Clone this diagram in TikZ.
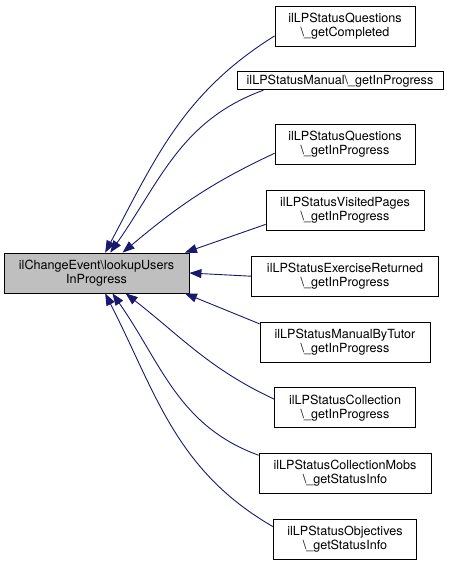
\documentclass[tikz,border=0pt]{standalone}
\usepackage{fontspec}
\setsansfont{TeX Gyre Heros}
\usetikzlibrary{arrows.meta, positioning}
\definecolor{edgeblue}{RGB}{25,25,112}

\begin{document}
\begin{tikzpicture}[
    x=1pt, y=1pt,
    fn/.style={draw, fill=white, align=center, font=\fontsize{12.6}{14}\selectfont\sffamily,
               inner xsep=4pt, inner ysep=2pt, minimum height=40pt, line width=0.8pt},
    fnone/.style={fn, minimum height=18pt},
    current/.style={fn, fill=black!25},
    caller/.style={draw=edgeblue, line width=0.9pt, <-},
    >={Triangle[length=12pt, width=9pt]},
    node distance=25pt
  ]
  \useasboundingbox (0,0) rectangle (459,-561);

  % Function whose callers are shown
  \node[current, minimum width=185pt] (lookup) at (96.5,-273) {ilChangeEvent\textbackslash lookupUsers\\InProgress};

  % Callers
  \node[fn, minimum width=140pt] (qcomp) at (345,-26) {ilLPStatusQuestions\\\textbackslash\_getCompleted};
  \node[fnone, minimum width=206pt, below=of qcomp, xshift=-5pt] (manual) {ilLPStatusManual\textbackslash\_getInProgress};
  \node[fn, minimum width=140pt, below=34pt of manual, xshift=5pt] (qprog) {ilLPStatusQuestions\\\textbackslash\_getInProgress};
  \node[fn, minimum width=158pt, below=of qprog] (visited) {ilLPStatusVisitedPages\\\textbackslash\_getInProgress};
  \node[fn, minimum width=187pt, below=of visited] (exercise) {ilLPStatusExerciseReturned\\\textbackslash\_getInProgress};
  \node[fn, minimum width=170pt, below=of exercise] (tutor) {ilLPStatusManualByTutor\\\textbackslash\_getInProgress};
  \node[fn, minimum width=141pt, below=of tutor] (coll) {ilLPStatusCollection\\\textbackslash\_getInProgress};
  \node[fn, minimum width=172pt, below=of coll] (mobs) {ilLPStatusCollectionMobs\\\textbackslash\_getStatusInfo};
  \node[fn, minimum width=143pt, below=of mobs] (objectives) {ilLPStatusObjectives\\\textbackslash\_getStatusInfo};

  % Edges
  \draw[caller] (lookup.67) to[out=62, in=212] (qcomp.188);
  \draw[caller] (lookup.56) to[out=55, in=200] (manual.187);
  \draw[caller] (lookup.38) to[out=40, in=205] (qprog.187);
  \draw[caller] (lookup.13.5) -- (visited.190);
  \draw[caller] (lookup.east) -- (exercise.west);
  \draw[caller] (lookup.-13.2) -- (tutor.168);
  \draw[caller] (lookup.-35) to[out=-38, in=155] (coll.173);
  \draw[caller] (lookup.-52) to[out=-55, in=160] (mobs.168);
  \draw[caller] (lookup.-67) to[out=-63, in=150] (objectives.170);
\end{tikzpicture}
\end{document}
